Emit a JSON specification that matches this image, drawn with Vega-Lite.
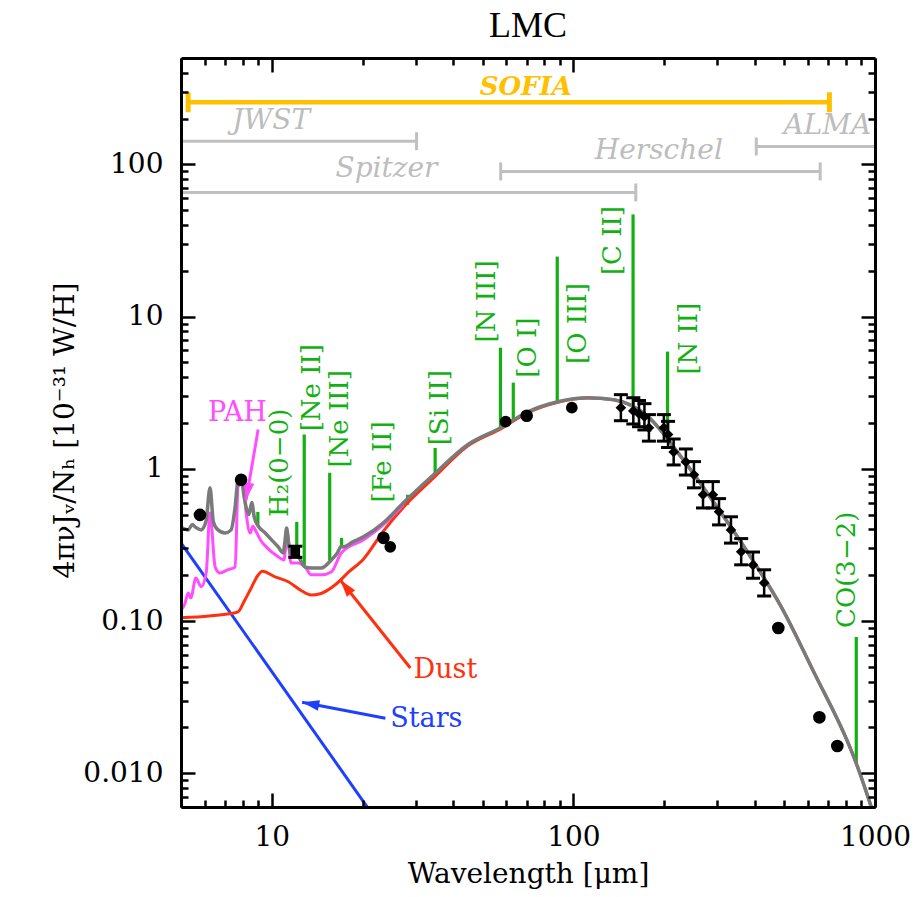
{
  "$schema": "https://vega.github.io/schema/vega-lite/v6.json",
  "width": 694,
  "height": 749,
  "autosize": {"type": "none"},
  "padding": {"left": 181, "top": 58, "right": 42, "bottom": 90},
  "background": "white",
  "title": {"text": "LMC", "font": "Liberation Serif", "fontSize": 36, "fontWeight": "normal", "color": "black", "offset": 12, "anchor": "middle"},
  "config": {"view": {"stroke": null}, "axis": {"grid": false}},
  "resolve": {"axis": {"x": "independent", "y": "independent"}},
  "datasets": {
    "gray": [
      {"w":5.00,"v":0.415},{"w":5.28,"v":0.397},{"w":5.45,"v":0.43},{"w":5.57,"v":0.415},{"w":5.83,"v":0.397},{"w":6.05,"v":0.45},{"w":6.24,"v":0.75},{"w":6.40,"v":0.45},{"w":6.60,"v":0.40},{"w":7.00,"v":0.379},{"w":7.33,"v":0.397},{"w":7.55,"v":0.55},{"w":7.73,"v":0.847},{"w":7.91,"v":0.873},{"w":8.10,"v":0.65},{"w":8.22,"v":0.56},{"w":8.40,"v":0.50},{"w":8.58,"v":0.60},{"w":8.75,"v":0.48},{"w":9.02,"v":0.42},{"w":9.51,"v":0.379},{"w":10.0,"v":0.34},{"w":10.5,"v":0.307},{"w":10.9,"v":0.28},{"w":11.05,"v":0.33},{"w":11.2,"v":0.409},{"w":11.35,"v":0.33},{"w":11.51,"v":0.28},{"w":12.24,"v":0.264},{"w":12.91,"v":0.226},{"w":13.52,"v":0.223},{"w":14.59,"v":0.223},{"w":15.75,"v":0.252},{"w":16.5,"v":0.28},{"w":17.0,"v":0.31},{"w":17.3,"v":0.307},{"w":18.5,"v":0.33},{"w":20.12,"v":0.357},{"w":23.45,"v":0.442},{"w":27.33,"v":0.598},{"w":34.38,"v":0.913},{"w":44.6,"v":1.44},{"w":57.4,"v":1.86},{"w":70.6,"v":2.37},{"w":88.8,"v":2.76},{"w":111.7,"v":2.93},{"w":136.2,"v":2.84},{"w":155,"v":2.62},{"w":176.7,"v":2.20},{"w":227.4,"v":1.20},{"w":292.7,"v":0.598},{"w":379.6,"v":0.280},{"w":488.7,"v":0.124},{"w":629.2,"v":0.0455},{"w":815.6,"v":0.0157},{"w":866.8,"v":0.0116},{"w":972.8,"v":0.00597}
    ],
    "red": [
      {"w":5.0,"v":0.105},{"w":6.2,"v":0.108},{"w":7.3,"v":0.112},{"w":7.73,"v":0.115},{"w":8.1,"v":0.135},{"w":8.48,"v":0.160},{"w":9.0,"v":0.200},{"w":9.3,"v":0.212},{"w":10.26,"v":0.195},{"w":11.34,"v":0.181},{"w":12.43,"v":0.160},{"w":13.52,"v":0.148},{"w":14.48,"v":0.151},{"w":16.24,"v":0.173},{"w":18.0,"v":0.21},{"w":20.12,"v":0.255},{"w":23.45,"v":0.39},{"w":27.33,"v":0.56},{"w":34.38,"v":0.87},{"w":44.6,"v":1.41},{"w":57.4,"v":1.83},{"w":70.6,"v":2.34},{"w":88.8,"v":2.74},{"w":111.7,"v":2.92},{"w":136.2,"v":2.84},{"w":155,"v":2.62},{"w":176.7,"v":2.20},{"w":227.4,"v":1.20},{"w":292.7,"v":0.598},{"w":379.6,"v":0.280},{"w":488.7,"v":0.124},{"w":629.2,"v":0.0455},{"w":815.6,"v":0.0157},{"w":866.8,"v":0.0116},{"w":972.8,"v":0.00597}
    ],
    "mag": [
      {"w":5.0,"v":0.118},{"w":5.15,"v":0.13},{"w":5.28,"v":0.153},{"w":5.39,"v":0.142},{"w":5.60,"v":0.192},{"w":5.83,"v":0.168},{"w":6.06,"v":0.207},{"w":6.24,"v":0.514},{"w":6.49,"v":0.226},{"w":6.73,"v":0.207},{"w":7.14,"v":0.217},{"w":7.56,"v":0.226},{"w":7.73,"v":0.762},{"w":8.04,"v":0.809},{"w":8.22,"v":0.514},{"w":8.48,"v":0.379},{"w":8.65,"v":0.42},{"w":8.81,"v":0.397},{"w":9.17,"v":0.341},{"w":9.58,"v":0.307},{"w":10.5,"v":0.264},{"w":10.97,"v":0.252},{"w":11.27,"v":0.379},{"w":11.57,"v":0.241},{"w":12.24,"v":0.241},{"w":12.91,"v":0.226},{"w":13.52,"v":0.201},{"w":14.59,"v":0.201},{"w":15.75,"v":0.210},{"w":17.0,"v":0.280},{"w":20.1,"v":0.341},{"w":23.45,"v":0.43},{"w":27.3,"v":0.58}
    ],
    "stars": [{"w":5.0,"v":0.326},{"w":22.0,"v":0.00507}],
    "lines": [
      {"w":8.99,"base":0.42,"top":0.521},{"w":12.1,"base":0.27,"top":0.448},{"w":12.81,"base":0.23,"top":1.68},{"w":15.56,"base":0.25,"top":0.942},{"w":17.03,"base":0.30,"top":0.352},{"w":28.2,"base":0.58,"top":0.675},{"w":34.8,"base":0.91,"top":1.37},{"w":57.3,"base":1.86,"top":6.25},{"w":63.2,"base":2.05,"top":3.68},{"w":88.4,"base":2.76,"top":24.8},{"w":157.7,"base":2.6,"top":46.9},{"w":205.2,"base":1.5,"top":5.89},{"w":866.8,"base":0.0116,"top":0.0785}
    ],
    "linelabels": [
      {"t":"H₂(0−0)","w":10.66,"v":1.095},{"t":"[Ne II]","w":13.62,"v":3.41},{"t":"[Ne III]","w":16.87,"v":2.13},{"t":"[Fe II]","w":23.45,"v":1.11},{"t":"[Si II]","w":35.98,"v":2.52},{"t":"[N III]","w":51.9,"v":12.6},{"t":"[O I]","w":70.6,"v":6.25},{"t":"[O III]","w":103.4,"v":9.0},{"t":"[C II]","w":135.2,"v":31.6},{"t":"[N II]","w":241.8,"v":7.16},{"t":"CO(3−2)","w":809.6,"v":0.217}
    ],
    "inst": [
      {"name":"SOFIA","x1":5.28,"x2":706,"y":256},{"name":"JWST","x1":5,"x2":30.2,"y":142},{"name":"Spitzer","x1":5,"x2":161,"y":65.4},{"name":"Herschel","x1":57.4,"x2":658,"y":89.9},{"name":"ALMA","x1":404,"x2":1000,"y":131}
    ],
    "instcaps": [
      {"name":"SOFIA","w":5.28,"v":256},{"name":"SOFIA","w":706,"v":256},{"name":"JWST","w":30.2,"v":142},{"name":"Spitzer","w":161,"v":65.4},{"name":"Herschel","w":57.4,"v":89.9},{"name":"Herschel","w":658,"v":89.9},{"name":"ALMA","w":404,"v":131}
    ],
    "instlabels": [
      {"name":"SOFIA","w":69.5,"v":321},{"name":"JWST","w":9.95,"v":192},{"name":"Spitzer","w":24.0,"v":92.7},{"name":"Herschel","w":192,"v":122},{"name":"ALMA","w":695,"v":178}
    ],
    "arrows": [
      {"name":"PAH","x1":9.01,"y1":1.81,"x2":8.22,"y2":0.625},
      {"name":"Dust","x1":28.8,"y1":0.0491,"x2":16.87,"y2":0.186},
      {"name":"Stars","x1":23.8,"y1":0.0230,"x2":12.6,"y2":0.0293}
    ],
    "annot": [
      {"t": "PAH", "w": 6.15, "v": 2.33},
      {"t": "Dust", "w": 29.5, "v": 0.0476},
      {"t": "Stars", "w": 24.7, "v": 0.0226}
    ],
    "obs": [
      {"kind":"circle","w":5.78,"v":0.498},{"kind":"circle","w":7.91,"v":0.847},{"kind":"circle","w":23.45,"v":0.352},{"kind":"small","w":24.7,"v":0.307},{"kind":"small","w":59.6,"v":2.04},{"kind":"circle","w":70.0,"v":2.23},{"kind":"small","w":98.8,"v":2.52},{"kind":"circle","w":478,"v":0.090},{"kind":"circle","w":654,"v":0.0233},{"kind":"circle","w":750,"v":0.0151},
      {"kind":"square","w":11.97,"v":0.285,"lo":0.262,"hi":0.31},
      {"kind":"diamond","w":143.7,"v":2.52,"lo":2.07,"hi":3.07},
      {"kind":"diamond","w":158,"v":2.40,"lo":1.97,"hi":2.93},
      {"kind":"diamond","w":165,"v":2.30,"lo":1.89,"hi":2.81},
      {"kind":"diamond","w":172,"v":2.20,"lo":1.80,"hi":2.68},
      {"kind":"diamond","w":178,"v":1.86,"lo":1.52,"hi":2.27},
      {"kind":"diamond","w":199.5,"v":1.86,"lo":1.52,"hi":2.27},
      {"kind":"diamond","w":206,"v":1.68,"lo":1.38,"hi":2.05},
      {"kind":"diamond","w":215,"v":1.29,"lo":1.06,"hi":1.57},
      {"kind":"diamond","w":236,"v":1.11,"lo":0.91,"hi":1.35},
      {"kind":"diamond","w":251,"v":0.914,"lo":0.75,"hi":1.115},
      {"kind":"diamond","w":269,"v":0.675,"lo":0.553,"hi":0.824},
      {"kind":"diamond","w":290,"v":0.675,"lo":0.553,"hi":0.824},
      {"kind":"diamond","w":304,"v":0.522,"lo":0.428,"hi":0.637},
      {"kind":"diamond","w":333,"v":0.397,"lo":0.325,"hi":0.484},
      {"kind":"diamond","w":360,"v":0.285,"lo":0.234,"hi":0.348},
      {"kind":"diamond","w":394,"v":0.233,"lo":0.191,"hi":0.284},
      {"kind":"diamond","w":429,"v":0.178,"lo":0.146,"hi":0.217}
    ]
  },
  "layer": [
    {
      "data": {"name": "inst"},
      "transform": [{"filter": "datum.name != 'SOFIA'"}],
      "mark": {"type": "rule", "color": "#c0c0c0", "strokeWidth": 3, "clip": true},
      "encoding": {
        "x": {"field": "x1", "type": "quantitative", "scale": {"type": "log", "domain": [5, 1000], "nice": false}, "axis": null},
        "x2": {"field": "x2"},
        "y": {"field": "y", "type": "quantitative", "scale": {"type": "log", "domain": [0.006, 500], "nice": false}, "axis": null}
      }
    },
    {
      "data": {"name": "inst"},
      "transform": [{"filter": "datum.name == 'SOFIA'"}],
      "mark": {"type": "rule", "color": "#ffc000", "strokeWidth": 4.5, "clip": true},
      "encoding": {
        "x": {"field": "x1", "type": "quantitative", "scale": {"type": "log", "domain": [5, 1000], "nice": false}, "axis": null},
        "x2": {"field": "x2"},
        "y": {"field": "y", "type": "quantitative", "scale": {"type": "log", "domain": [0.006, 500], "nice": false}, "axis": null}
      }
    },
    {
      "data": {"name": "instcaps"},
      "mark": {"type": "point", "shape": "M0,-1L0,1", "filled": false, "opacity": 1, "clip": true},
      "encoding": {
        "x": {"field": "w", "type": "quantitative", "scale": {"type": "log", "domain": [5, 1000], "nice": false}, "axis": null},
        "y": {"field": "v", "type": "quantitative", "scale": {"type": "log", "domain": [0.006, 500], "nice": false}, "axis": null},
        "color": {"condition": {"test": "datum.name == 'SOFIA'", "value": "#ffc000"}, "value": "#c0c0c0"},
        "size": {"condition": {"test": "datum.name == 'SOFIA'", "value": 400}, "value": 324},
        "strokeWidth": {"condition": {"test": "datum.name == 'SOFIA'", "value": 5}, "value": 3}
      }
    },
    {
      "data": {"name": "instlabels"},
      "transform": [{"filter": "datum.name != 'SOFIA'"}],
      "mark": {"type": "text", "font": "DejaVu Serif", "fontSize": 28, "fontStyle": "italic", "align": "center", "baseline": "middle", "color": "#bdbdbd"},
      "encoding": {
        "x": {"field": "w", "type": "quantitative", "scale": {"type": "log", "domain": [5, 1000], "nice": false}, "axis": null},
        "y": {"field": "v", "type": "quantitative", "scale": {"type": "log", "domain": [0.006, 500], "nice": false}, "axis": null},
        "text": {"field": "name"}
      }
    },
    {
      "data": {"name": "instlabels"},
      "transform": [{"filter": "datum.name == 'SOFIA'"}],
      "mark": {"type": "text", "font": "DejaVu Serif", "fontSize": 26, "fontStyle": "italic", "fontWeight": "bold", "align": "center", "baseline": "middle", "color": "#ffc000"},
      "encoding": {
        "x": {"field": "w", "type": "quantitative", "scale": {"type": "log", "domain": [5, 1000], "nice": false}, "axis": null},
        "y": {"field": "v", "type": "quantitative", "scale": {"type": "log", "domain": [0.006, 500], "nice": false}, "axis": null},
        "text": {"field": "name"}
      }
    },
    {
      "data": {"name": "lines"},
      "mark": {"type": "rule", "color": "#12b012", "strokeWidth": 3.2, "clip": true},
      "encoding": {
        "x": {"field": "w", "type": "quantitative", "scale": {"type": "log", "domain": [5, 1000], "nice": false},
          "axis": {"orient": "top", "values": [5,6,7,8,9,20,30,40,50,60,70,80,90,200,300,400,500,600,700,800,900], "labels": false, "ticks": true, "tickSize": -7, "tickWidth": 2.5, "tickColor": "black", "domain": false, "title": null, "zindex": 2}},
        "y": {"field": "base", "type": "quantitative", "scale": {"type": "log", "domain": [0.006, 500], "nice": false},
          "axis": {"orient": "right", "values": [0.006,0.007,0.008,0.009,0.02,0.03,0.04,0.05,0.06,0.07,0.08,0.09,0.2,0.3,0.4,0.5,0.6,0.7,0.8,0.9,2,3,4,5,6,7,8,9,20,30,40,50,60,70,80,90,200,300,400], "labels": false, "ticks": true, "tickSize": -7, "tickWidth": 2.5, "tickColor": "black", "domain": false, "title": null, "zindex": 2}},
        "y2": {"field": "top"}
      }
    },
    {
      "data": {"name": "linelabels"},
      "mark": {"type": "text", "font": "DejaVu Serif", "fontSize": 26, "angle": 270, "align": "center", "baseline": "middle", "color": "#12b012"},
      "encoding": {
        "x": {"field": "w", "type": "quantitative", "scale": {"type": "log", "domain": [5, 1000], "nice": false}, "axis": null},
        "y": {"field": "v", "type": "quantitative", "scale": {"type": "log", "domain": [0.006, 500], "nice": false}, "axis": null},
        "text": {"field": "t"}
      }
    },
    {
      "data": {"name": "stars"},
      "mark": {"type": "line", "color": "#1f3fff", "strokeWidth": 3, "clip": true},
      "encoding": {
        "x": {"field": "w", "type": "quantitative", "scale": {"type": "log", "domain": [5, 1000], "nice": false},
          "axis": {"orient": "top", "values": [10,100,1000], "labels": false, "ticks": true, "tickSize": -14, "tickWidth": 2.5, "tickColor": "black", "domain": true, "domainWidth": 3, "domainColor": "black", "title": null, "zindex": 2}},
        "y": {"field": "v", "type": "quantitative", "scale": {"type": "log", "domain": [0.006, 500], "nice": false},
          "axis": {"orient": "right", "values": [0.01,0.1,1,10,100], "labels": false, "ticks": true, "tickSize": -14, "tickWidth": 2.5, "tickColor": "black", "domain": true, "domainWidth": 3, "domainColor": "black", "title": null, "zindex": 2}}
      }
    },
    {
      "data": {"name": "red"},
      "mark": {"type": "line", "color": "#ff3010", "strokeWidth": 3, "interpolate": "monotone", "clip": true},
      "encoding": {
        "x": {"field": "w", "type": "quantitative", "scale": {"type": "log", "domain": [5, 1000], "nice": false},
          "axis": {"orient": "bottom", "values": [10,100,1000], "labels": false, "ticks": true, "tickSize": -14, "tickWidth": 2.5, "tickColor": "black", "domain": true, "domainWidth": 3, "domainColor": "black", "title": null, "zindex": 2}},
        "y": {"field": "v", "type": "quantitative", "scale": {"type": "log", "domain": [0.006, 500], "nice": false},
          "axis": {"orient": "left", "values": [0.01,0.1,1,10,100], "labels": false, "ticks": true, "tickSize": -14, "tickWidth": 2.5, "tickColor": "black", "domain": true, "domainWidth": 3, "domainColor": "black", "title": null, "zindex": 2}}
      }
    },
    {
      "data": {"name": "mag"},
      "mark": {"type": "line", "color": "#ff4dff", "strokeWidth": 3, "interpolate": "monotone", "clip": true},
      "encoding": {
        "x": {"field": "w", "type": "quantitative", "scale": {"type": "log", "domain": [5, 1000], "nice": false},
          "axis": {"orient": "bottom", "values": [5,6,7,8,9,20,30,40,50,60,70,80,90,200,300,400,500,600,700,800,900], "labels": false, "ticks": true, "tickSize": -7, "tickWidth": 2.5, "tickColor": "black", "domain": false, "title": null, "zindex": 2}},
        "y": {"field": "v", "type": "quantitative", "scale": {"type": "log", "domain": [0.006, 500], "nice": false},
          "axis": {"orient": "left", "values": [0.006,0.007,0.008,0.009,0.02,0.03,0.04,0.05,0.06,0.07,0.08,0.09,0.2,0.3,0.4,0.5,0.6,0.7,0.8,0.9,2,3,4,5,6,7,8,9,20,30,40,50,60,70,80,90,200,300,400], "labels": false, "ticks": true, "tickSize": -7, "tickWidth": 2.5, "tickColor": "black", "domain": false, "title": null, "zindex": 2}}
      }
    },
    {
      "data": {"name": "gray"},
      "mark": {"type": "line", "color": "#7a7a7a", "strokeWidth": 3.5, "interpolate": "monotone", "clip": true},
      "encoding": {
        "x": {"field": "w", "type": "quantitative", "scale": {"type": "log", "domain": [5, 1000], "nice": false},
          "axis": {"orient": "bottom", "values": [10,100,1000], "ticks": false, "domain": false, "labelExpr": "datum.value < 50 ? '10' : datum.value < 500 ? '100' : '1000'", "labelFont": "DejaVu Serif", "labelFontSize": 28, "labelColor": "black", "labelPadding": 16, "labelFlush": false, "labelOverlap": false, "title": "Wavelength [μm]", "titleFont": "DejaVu Serif", "titleFontSize": 28, "titleFontWeight": "normal", "titleColor": "black", "titleY": 67, "titleBaseline": "middle", "zindex": 1}},
        "y": {"field": "v", "type": "quantitative", "scale": {"type": "log", "domain": [0.006, 500], "nice": false},
          "axis": {"orient": "left", "values": [0.01,0.1,1,10,100], "ticks": false, "domain": false, "labelExpr": "datum.value < 0.05 ? '0.010' : datum.value < 0.5 ? '0.10' : datum.value < 5 ? '1' : datum.value < 50 ? '10' : '100'", "labelFont": "DejaVu Serif", "labelFontSize": 28, "labelColor": "black", "labelPadding": 18, "labelFlush": false, "labelOverlap": false, "title": "4πνJᵥ/Nₕ [10⁻³¹ W/H]", "titleFont": "DejaVu Serif", "titleFontSize": 28, "titleFontWeight": "normal", "titleColor": "black", "titleX": -116, "titleY": 372, "titleAngle": 270, "titleAlign": "center", "titleBaseline": "middle", "zindex": 1}}
      }
    },
    {
      "data": {"name": "arrows"},
      "mark": {"type": "rule", "strokeWidth": 3},
      "encoding": {
        "x": {"field": "x1", "type": "quantitative", "scale": {"type": "log", "domain": [5, 1000], "nice": false}, "axis": null},
        "y": {"field": "y1", "type": "quantitative", "scale": {"type": "log", "domain": [0.006, 500], "nice": false}, "axis": null},
        "x2": {"field": "x2"},
        "y2": {"field": "y2"},
        "color": {"field": "name", "type": "nominal", "scale": {"domain": ["PAH", "Dust", "Stars"], "range": ["#ff4dff", "#ff3010", "#1f3fff"]}, "legend": null}
      }
    },
    {
      "data": {"name": "arrows"},
      "transform": [{"filter": "datum.name == 'PAH'"}],
      "mark": {"type": "point", "shape": "M0,0L-0.4,1.3L0.4,1.3Z", "filled": true, "size": 700, "angle": 190, "color": "#ff4dff", "opacity": 1},
      "encoding": {
        "x": {"field": "x2", "type": "quantitative", "scale": {"type": "log", "domain": [5, 1000], "nice": false}, "axis": null},
        "y": {"field": "y2", "type": "quantitative", "scale": {"type": "log", "domain": [0.006, 500], "nice": false}, "axis": null}
      }
    },
    {
      "data": {"name": "arrows"},
      "transform": [{"filter": "datum.name == 'Dust'"}],
      "mark": {"type": "point", "shape": "M0,0L-0.4,1.3L0.4,1.3Z", "filled": true, "size": 700, "angle": 321.5, "color": "#ff3010", "opacity": 1},
      "encoding": {
        "x": {"field": "x2", "type": "quantitative", "scale": {"type": "log", "domain": [5, 1000], "nice": false}, "axis": null},
        "y": {"field": "y2", "type": "quantitative", "scale": {"type": "log", "domain": [0.006, 500], "nice": false}, "axis": null}
      }
    },
    {
      "data": {"name": "arrows"},
      "transform": [{"filter": "datum.name == 'Stars'"}],
      "mark": {"type": "point", "shape": "M0,0L-0.4,1.3L0.4,1.3Z", "filled": true, "size": 700, "angle": 281, "color": "#1f3fff", "opacity": 1},
      "encoding": {
        "x": {"field": "x2", "type": "quantitative", "scale": {"type": "log", "domain": [5, 1000], "nice": false}, "axis": null},
        "y": {"field": "y2", "type": "quantitative", "scale": {"type": "log", "domain": [0.006, 500], "nice": false}, "axis": null}
      }
    },
    {
      "data": {"name": "annot"},
      "mark": {"type": "text", "font": "DejaVu Serif", "fontSize": 27, "baseline": "middle", "align": "left"},
      "encoding": {
        "x": {"field": "w", "type": "quantitative", "scale": {"type": "log", "domain": [5, 1000], "nice": false}, "axis": null},
        "y": {"field": "v", "type": "quantitative", "scale": {"type": "log", "domain": [0.006, 500], "nice": false}, "axis": null},
        "text": {"field": "t"},
        "color": {"field": "t", "type": "nominal", "scale": {"domain": ["PAH", "Dust", "Stars"], "range": ["#ff4dff", "#ff3010", "#1f3fff"]}, "legend": null}
      }
    },
    {
      "data": {"name": "obs"},
      "transform": [{"filter": "isValid(datum.lo)"}],
      "mark": {"type": "rule", "color": "black", "strokeWidth": 2.5},
      "encoding": {
        "x": {"field": "w", "type": "quantitative", "scale": {"type": "log", "domain": [5, 1000], "nice": false}, "axis": null},
        "y": {"field": "lo", "type": "quantitative", "scale": {"type": "log", "domain": [0.006, 500], "nice": false}, "axis": null},
        "y2": {"field": "hi"}
      }
    },
    {
      "data": {"name": "obs"},
      "transform": [{"filter": "isValid(datum.lo)"}, {"fold": ["lo", "hi"], "as": ["k", "yv"]}],
      "mark": {"type": "point", "shape": "M-1,0L1,0", "filled": false, "size": 196, "strokeWidth": 3, "color": "black", "opacity": 1},
      "encoding": {
        "x": {"field": "w", "type": "quantitative", "scale": {"type": "log", "domain": [5, 1000], "nice": false}, "axis": null},
        "y": {"field": "yv", "type": "quantitative", "scale": {"type": "log", "domain": [0.006, 500], "nice": false}, "axis": null}
      }
    },
    {
      "data": {"name": "obs"},
      "mark": {"type": "point", "filled": true, "color": "black", "opacity": 1},
      "encoding": {
        "x": {"field": "w", "type": "quantitative", "scale": {"type": "log", "domain": [5, 1000], "nice": false}, "axis": null},
        "y": {"field": "v", "type": "quantitative", "scale": {"type": "log", "domain": [0.006, 500], "nice": false}, "axis": null},
        "shape": {"field": "kind", "type": "nominal", "scale": {"domain": ["circle", "small", "diamond", "square"], "range": ["circle", "circle", "diamond", "square"]}, "legend": null},
        "size": {"field": "kind", "type": "nominal", "scale": {"domain": ["circle", "small", "diamond", "square"], "range": [160, 90, 120, 110]}, "legend": null}
      }
    }
  ]
}
